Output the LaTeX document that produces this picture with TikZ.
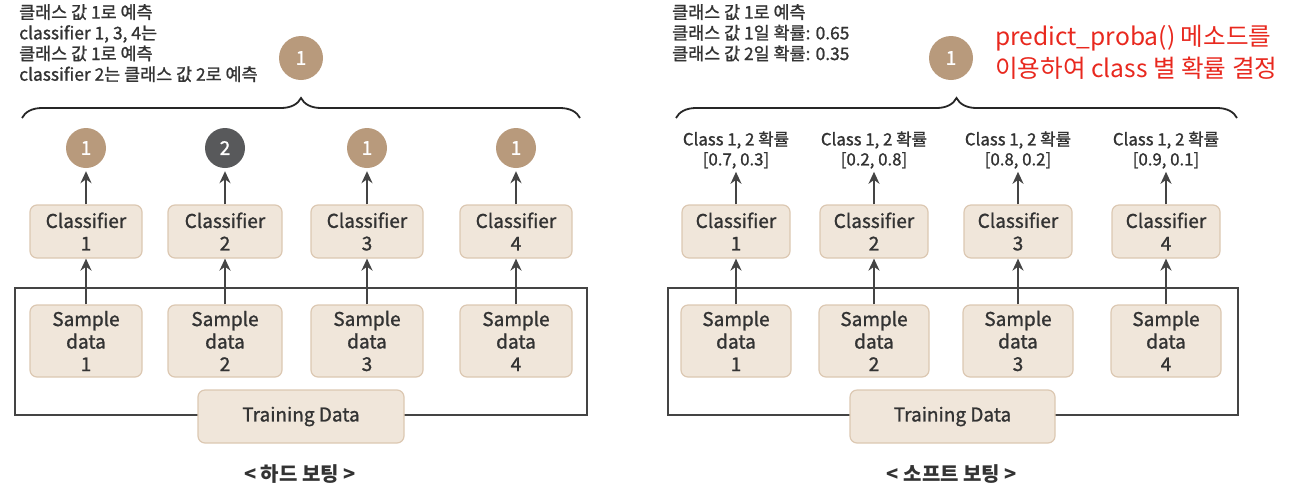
\documentclass[tikz,border=0pt]{standalone}
\usepackage{fontspec}
\setmainfont{Noto Sans CJK KR}
\newfontfamily\medfont{Noto Sans CJK KR}[FakeBold=1.2]
\usetikzlibrary{decorations.pathreplacing,arrows.meta}
\definecolor{boxfill}{HTML}{F0E6DA}
\definecolor{boxline}{HTML}{DCC8B2}
\definecolor{tanc}{HTML}{B89A7C}
\definecolor{darkc}{HTML}{58595B}
\definecolor{txt}{HTML}{333333}
\definecolor{arr}{HTML}{444444}
\definecolor{redt}{HTML}{E8281E}
\begin{document}
\begin{tikzpicture}[x=1pt,y=-1pt,
  box/.style={draw=boxline, fill=boxfill, rounded corners=7pt, line width=1.2pt, align=center, text=txt, font=\medfont\fontsize{19}{22.5}\selectfont, inner sep=0pt},
  clf/.style={box, minimum height=53pt},
  smp/.style={box, minimum height=72pt},
  vote/.style={circle, fill=tanc, text=white, minimum size=40pt, inner sep=0pt, font=\medfont\fontsize{19}{20}\selectfont},
  bigvote/.style={vote, minimum size=44pt},
  arrowline/.style={draw=arr, line width=2pt, -{Stealth[length=12pt,width=11pt]}},
  framel/.style={draw=arr, line width=2pt},
  bracel/.style={draw=black!85, line width=1.8pt, decorate, decoration={brace, amplitude=20pt}},
  note/.style={align=left, text=txt, font=\medfont\fontsize{17.4}{20.7}\selectfont, inner sep=0pt},
  prob/.style={align=center, text=txt, font=\medfont\fontsize{16.8}{20}\selectfont, inner sep=0pt},
  caption/.style={text=txt, font=\fontsize{20}{22}\selectfont\bfseries, inner sep=0pt}
]
\useasboundingbox (0,0) rectangle (1300,496);

% ---------------- Left: hard voting ----------------
\node[note, anchor=north west] (lnote) at (19,4) {클래스 값 1로 예측\\classifier 1, 3, 4는\\클래스 값 1로 예측\\classifier 2는 클래스 값 2로 예측};
\node[bigvote] (ltop) at (301,58) {1};
\draw[bracel] (22,118) -- (580,118);

\draw[framel] (15,288) rectangle (587,415);

\foreach \i/\x/\w/\c/\v in {1/86/112/tanc/1,2/225/114/darkc/2,3/367/112/tanc/1,4/516/112/tanc/1}{
  \node[vote, fill=\c] (lv\i) at (\x,148) {\v};
  \node[clf, minimum width=\w pt] (lc\i) at (\x,231.5) {Classifier\\\i};
  \node[smp, minimum width=\w pt] (ls\i) at (\x,341) {Sample\\data\\\i};
  \draw[arrowline, shorten >=3pt] (lc\i.north) -- (lv\i.south);
  \draw[arrowline] (ls\i.north) -- (lc\i.south);
}
\node[clf, minimum width=206pt] (ltrain) at (301,416.5) {Training Data};
\node[caption] (lcap) at (300,474) {< 하드 보팅 >};

% ---------------- Right: soft voting ----------------
\node[note, anchor=north west] (rnote) at (672,4) {클래스 값 1로 예측\\클래스 값 1일 확률: 0.65\\클래스 값 2일 확률: 0.35};
\node[bigvote] (rtop) at (951,58) {1};
\node[align=left, anchor=west, text=redt, font=\fontsize{24.6}{32}\selectfont, inner sep=0pt] (rred) at (995,52) {predict\_proba() 메소드를\\이용하여 class 별 확률 결정};
\draw[bracel] (676,118) -- (1237,118);

\draw[framel] (668,288) rectangle (1238,415);

\foreach \i/\x/\p in {1/736/{[0.7, 0.3]},2/874/{[0.2, 0.8]},3/1018/{[0.8, 0.2]},4/1166/{[0.9, 0.1]}}{
  \node[prob] (rp\i) at (\x,150) {Class 1, 2 확률\\\p};
  \node[clf, minimum width=108pt] (rc\i) at (\x,231.5) {Classifier\\\i};
  \node[smp, minimum width=110pt] (rs\i) at (\x,341) {Sample\\data\\\i};
  \draw[arrowline, shorten >=3pt] (rc\i.north) -- (rp\i.south);
  \draw[arrowline] (rs\i.north) -- (rc\i.south);
}
\node[clf, minimum width=205pt] (rtrain) at (952.5,416.5) {Training Data};
\node[caption] (rcap) at (952,474) {< 소프트 보팅 >};
\end{tikzpicture}
\end{document}
